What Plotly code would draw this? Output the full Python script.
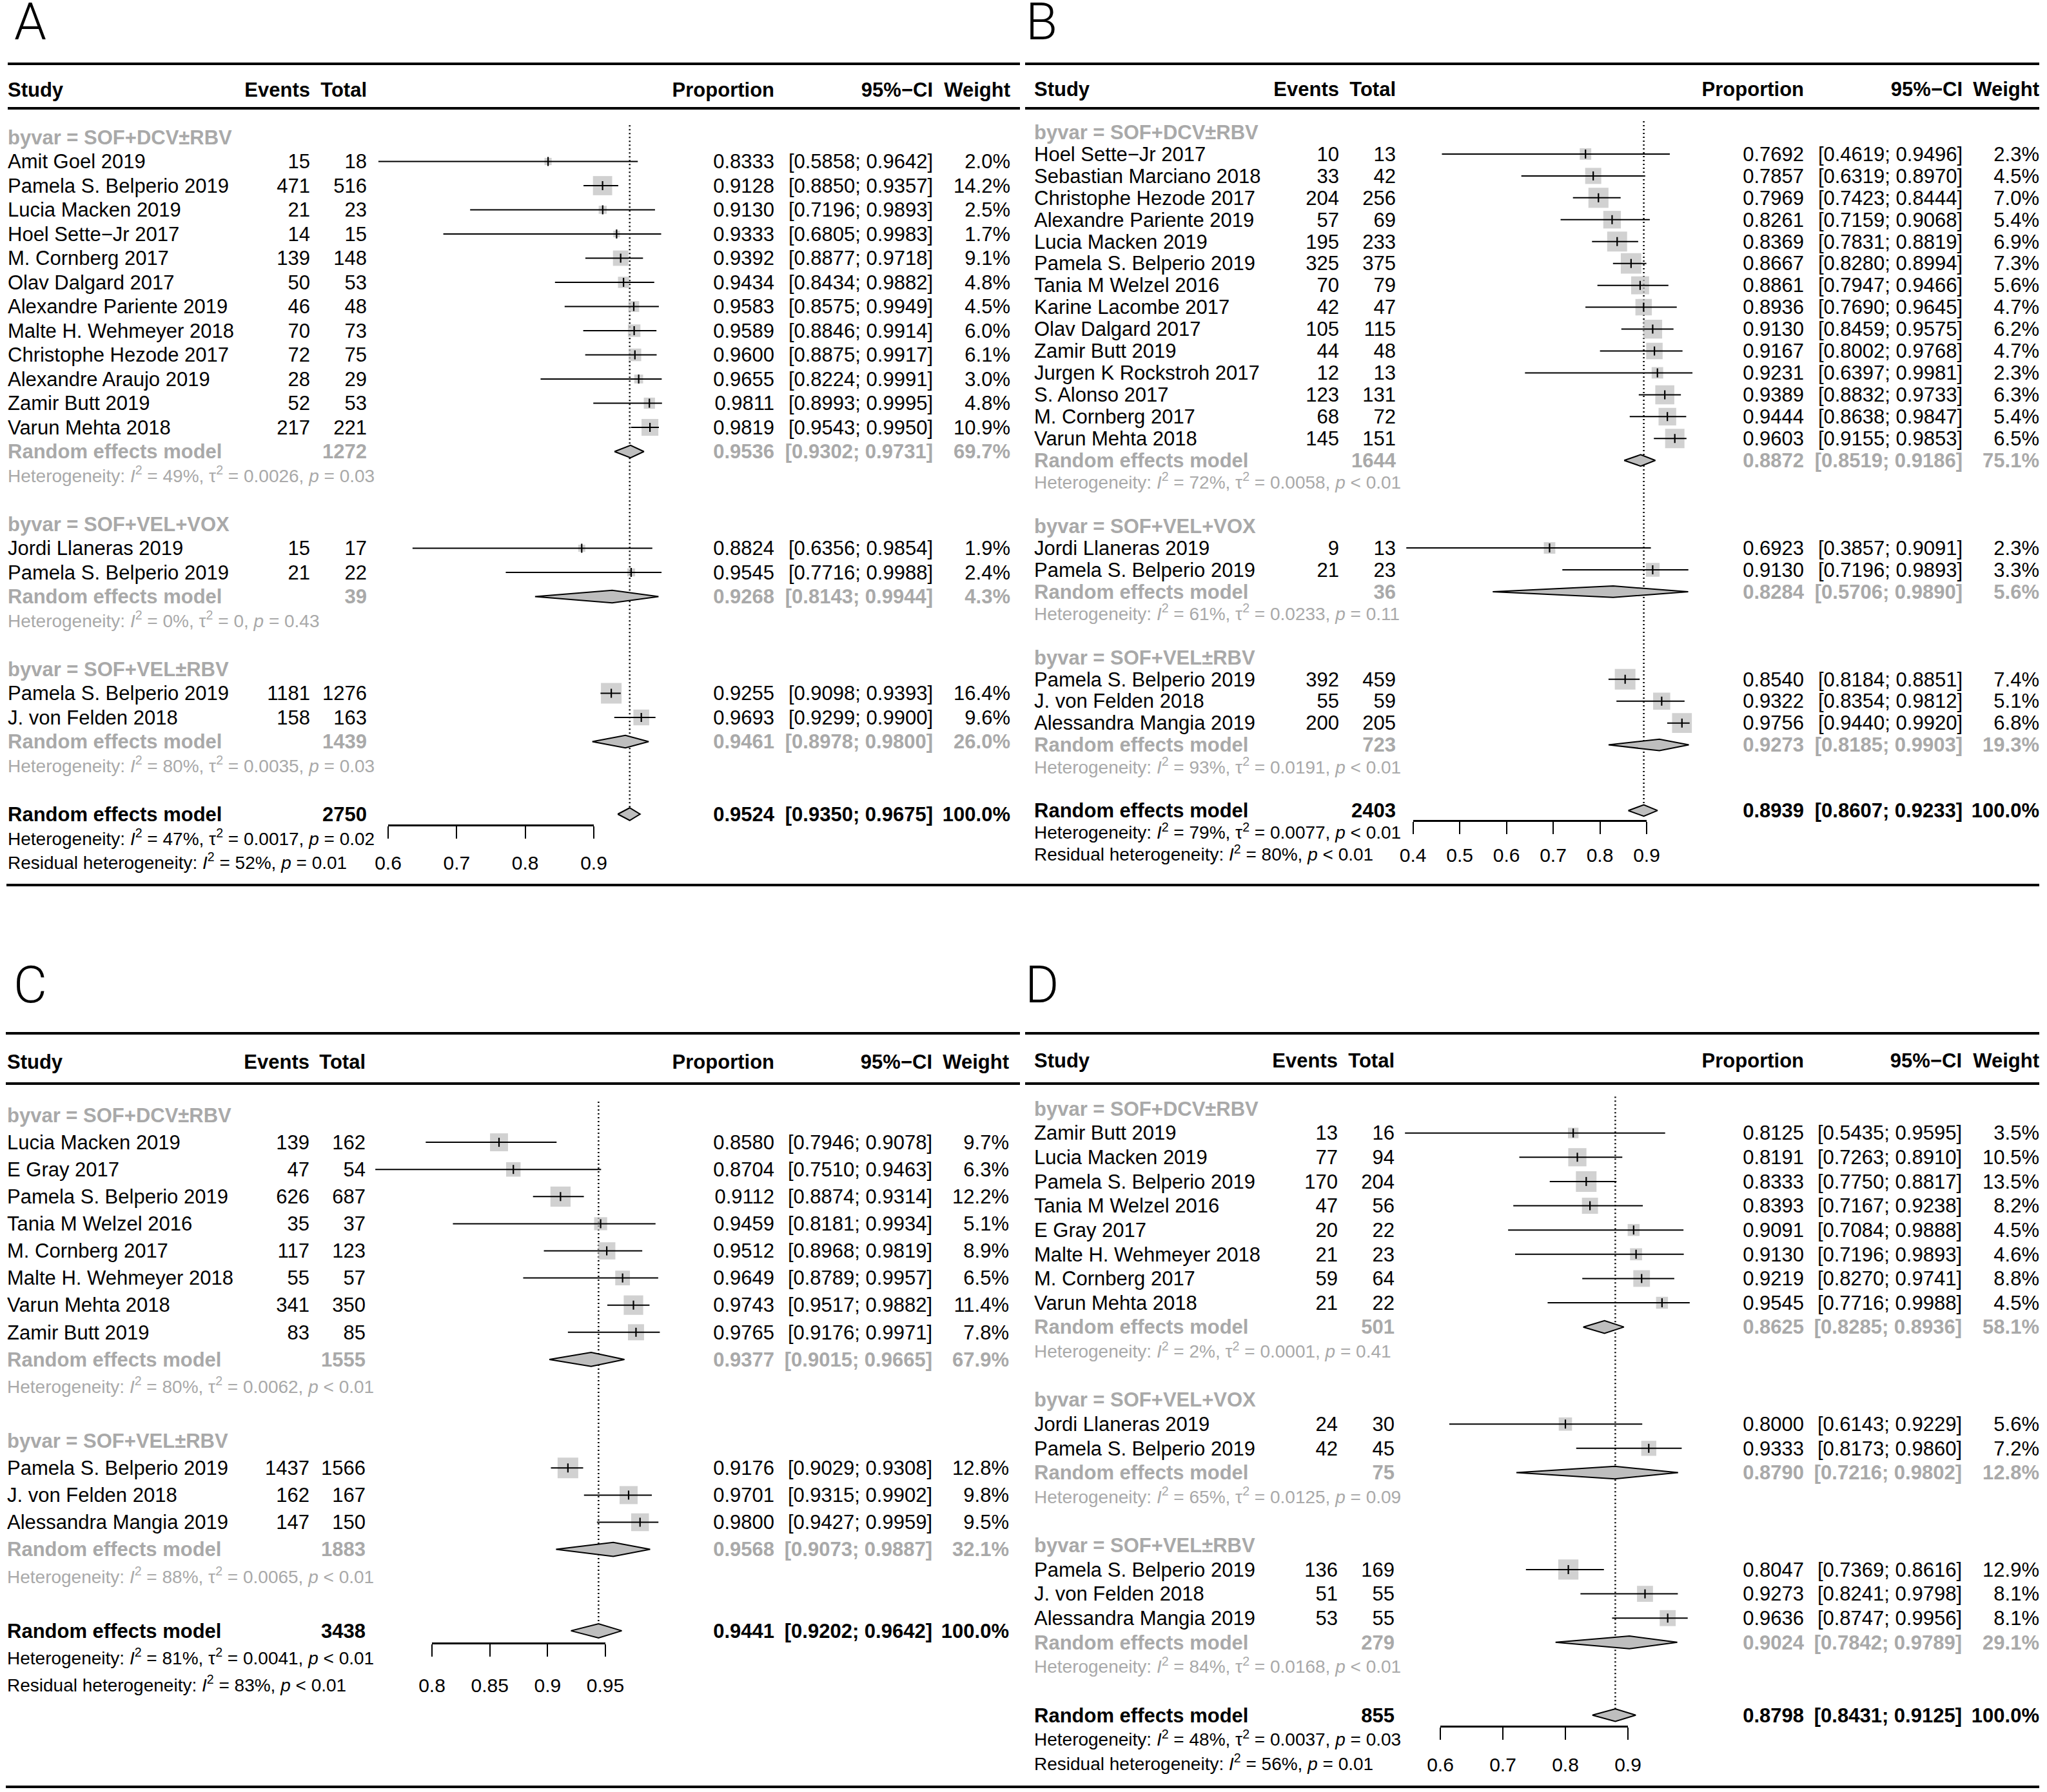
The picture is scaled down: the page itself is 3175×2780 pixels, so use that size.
import math
import plotly.graph_objects as go

W, H = 3175, 2780
FONT = "Liberation Sans, Arial, Helvetica, sans-serif"
TXT_GRAY = "#A9A9A9"
BOX_GRAY = "#BEBEBE"

# ======================= Panel A data =======================
A_groups = ["SOF+DCV±RBV", "SOF+VEL+VOX", "SOF+VEL±RBV"]
A_group = [0, 0, 0, 0, 0, 0, 0, 0, 0, 0, 0, 0, 1, 1, 2, 2]
A_study = ["Amit Goel 2019", "Pamela S. Belperio 2019", "Lucia Macken 2019", "Hoel Sette−Jr 2017",
           "M. Cornberg 2017", "Olav Dalgard 2017", "Alexandre Pariente 2019", "Malte H. Wehmeyer 2018",
           "Christophe Hezode 2017", "Alexandre Araujo 2019", "Zamir Butt 2019", "Varun Mehta 2018",
           "Jordi Llaneras 2019", "Pamela S. Belperio 2019",
           "Pamela S. Belperio 2019", "J. von Felden 2018"]
A_events = [15, 471, 21, 14, 139, 50, 46, 70, 72, 28, 52, 217, 15, 21, 1181, 158]
A_total = [18, 516, 23, 15, 148, 53, 48, 73, 75, 29, 53, 221, 17, 22, 1276, 163]
A_prop = [0.8333, 0.9128, 0.9130, 0.9333, 0.9392, 0.9434, 0.9583, 0.9589, 0.9600, 0.9655, 0.9811, 0.9819,
          0.8824, 0.9545, 0.9255, 0.9693]
A_lower = [0.5858, 0.8850, 0.7196, 0.6805, 0.8877, 0.8434, 0.8575, 0.8846, 0.8875, 0.8224, 0.8993, 0.9543,
           0.6356, 0.7716, 0.9098, 0.9299]
A_upper = [0.9642, 0.9357, 0.9893, 0.9983, 0.9718, 0.9882, 0.9949, 0.9914, 0.9917, 0.9991, 0.9995, 0.9950,
           0.9854, 0.9988, 0.9393, 0.9900]
A_weight = [2.0, 14.2, 2.5, 1.7, 9.1, 4.8, 4.5, 6.0, 6.1, 3.0, 4.8, 10.9, 1.9, 2.4, 16.4, 9.6]
A_sub_total = [1272, 39, 1439]
A_sub_prop = [0.9536, 0.9268, 0.9461]
A_sub_lower = [0.9302, 0.8143, 0.8978]
A_sub_upper = [0.9731, 0.9944, 0.9800]
A_sub_weight = [69.7, 4.3, 26.0]
A_sub_I2 = [49, 0, 80]
A_sub_tau2 = ["0.0026", "0", "0.0035"]
A_sub_p = ["= 0.03", "= 0.43", "= 0.03"]
A_all_total = 2750
A_all_ci = [0.9524, 0.9350, 0.9675]
A_het = [47, "0.0017", "= 0.02"]
A_resid = [52, "= 0.01"]
A_ticks = [0.6, 0.7, 0.8, 0.9]
A_ticklabels = ["0.6", "0.7", "0.8", "0.9"]

# ======================= Panel B data =======================
B_groups = ["SOF+DCV±RBV", "SOF+VEL+VOX", "SOF+VEL±RBV"]
B_group = [0, 0, 0, 0, 0, 0, 0, 0, 0, 0, 0, 0, 0, 0, 1, 1, 2, 2, 2]
B_study = ["Hoel Sette−Jr 2017", "Sebastian Marciano 2018", "Christophe Hezode 2017", "Alexandre Pariente 2019",
           "Lucia Macken 2019", "Pamela S. Belperio 2019", "Tania M Welzel 2016", "Karine Lacombe 2017",
           "Olav Dalgard 2017", "Zamir Butt 2019", "Jurgen K Rockstroh 2017", "S. Alonso 2017",
           "M. Cornberg 2017", "Varun Mehta 2018",
           "Jordi Llaneras 2019", "Pamela S. Belperio 2019",
           "Pamela S. Belperio 2019", "J. von Felden 2018", "Alessandra Mangia 2019"]
B_events = [10, 33, 204, 57, 195, 325, 70, 42, 105, 44, 12, 123, 68, 145, 9, 21, 392, 55, 200]
B_total = [13, 42, 256, 69, 233, 375, 79, 47, 115, 48, 13, 131, 72, 151, 13, 23, 459, 59, 205]
B_prop = [0.7692, 0.7857, 0.7969, 0.8261, 0.8369, 0.8667, 0.8861, 0.8936, 0.9130, 0.9167, 0.9231, 0.9389,
          0.9444, 0.9603, 0.6923, 0.9130, 0.8540, 0.9322, 0.9756]
B_lower = [0.4619, 0.6319, 0.7423, 0.7159, 0.7831, 0.8280, 0.7947, 0.7690, 0.8459, 0.8002, 0.6397, 0.8832,
           0.8638, 0.9155, 0.3857, 0.7196, 0.8184, 0.8354, 0.9440]
B_upper = [0.9496, 0.8970, 0.8444, 0.9068, 0.8819, 0.8994, 0.9466, 0.9645, 0.9575, 0.9768, 0.9981, 0.9733,
           0.9847, 0.9853, 0.9091, 0.9893, 0.8851, 0.9812, 0.9920]
B_weight = [2.3, 4.5, 7.0, 5.4, 6.9, 7.3, 5.6, 4.7, 6.2, 4.7, 2.3, 6.3, 5.4, 6.5, 2.3, 3.3, 7.4, 5.1, 6.8]
B_sub_total = [1644, 36, 723]
B_sub_prop = [0.8872, 0.8284, 0.9273]
B_sub_lower = [0.8519, 0.5706, 0.8185]
B_sub_upper = [0.9186, 0.9890, 0.9903]
B_sub_weight = [75.1, 5.6, 19.3]
B_sub_I2 = [72, 61, 93]
B_sub_tau2 = ["0.0058", "0.0233", "0.0191"]
B_sub_p = ["< 0.01", "= 0.11", "< 0.01"]
B_all_total = 2403
B_all_ci = [0.8939, 0.8607, 0.9233]
B_het = [79, "0.0077", "< 0.01"]
B_resid = [80, "< 0.01"]
B_ticks = [0.4, 0.5, 0.6, 0.7, 0.8, 0.9]
B_ticklabels = ["0.4", "0.5", "0.6", "0.7", "0.8", "0.9"]

# ======================= Panel C data =======================
C_groups = ["SOF+DCV±RBV", "SOF+VEL±RBV"]
C_group = [0, 0, 0, 0, 0, 0, 0, 0, 1, 1, 1]
C_study = ["Lucia Macken 2019", "E Gray 2017", "Pamela S. Belperio 2019", "Tania M Welzel 2016",
           "M. Cornberg 2017", "Malte H. Wehmeyer 2018", "Varun Mehta 2018", "Zamir Butt 2019",
           "Pamela S. Belperio 2019", "J. von Felden 2018", "Alessandra Mangia 2019"]
C_events = [139, 47, 626, 35, 117, 55, 341, 83, 1437, 162, 147]
C_total = [162, 54, 687, 37, 123, 57, 350, 85, 1566, 167, 150]
C_prop = [0.8580, 0.8704, 0.9112, 0.9459, 0.9512, 0.9649, 0.9743, 0.9765, 0.9176, 0.9701, 0.9800]
C_lower = [0.7946, 0.7510, 0.8874, 0.8181, 0.8968, 0.8789, 0.9517, 0.9176, 0.9029, 0.9315, 0.9427]
C_upper = [0.9078, 0.9463, 0.9314, 0.9934, 0.9819, 0.9957, 0.9882, 0.9971, 0.9308, 0.9902, 0.9959]
C_weight = [9.7, 6.3, 12.2, 5.1, 8.9, 6.5, 11.4, 7.8, 12.8, 9.8, 9.5]
C_sub_total = [1555, 1883]
C_sub_prop = [0.9377, 0.9568]
C_sub_lower = [0.9015, 0.9073]
C_sub_upper = [0.9665, 0.9887]
C_sub_weight = [67.9, 32.1]
C_sub_I2 = [80, 88]
C_sub_tau2 = ["0.0062", "0.0065"]
C_sub_p = ["< 0.01", "< 0.01"]
C_all_total = 3438
C_all_ci = [0.9441, 0.9202, 0.9642]
C_het = [81, "0.0041", "< 0.01"]
C_resid = [83, "< 0.01"]
C_ticks = [0.8, 0.85, 0.9, 0.95]
C_ticklabels = ["0.8", "0.85", "0.9", "0.95"]

# ======================= Panel D data =======================
D_groups = ["SOF+DCV±RBV", "SOF+VEL+VOX", "SOF+VEL±RBV"]
D_group = [0, 0, 0, 0, 0, 0, 0, 0, 1, 1, 2, 2, 2]
D_study = ["Zamir Butt 2019", "Lucia Macken 2019", "Pamela S. Belperio 2019", "Tania M Welzel 2016",
           "E Gray 2017", "Malte H. Wehmeyer 2018", "M. Cornberg 2017", "Varun Mehta 2018",
           "Jordi Llaneras 2019", "Pamela S. Belperio 2019",
           "Pamela S. Belperio 2019", "J. von Felden 2018", "Alessandra Mangia 2019"]
D_events = [13, 77, 170, 47, 20, 21, 59, 21, 24, 42, 136, 51, 53]
D_total = [16, 94, 204, 56, 22, 23, 64, 22, 30, 45, 169, 55, 55]
D_prop = [0.8125, 0.8191, 0.8333, 0.8393, 0.9091, 0.9130, 0.9219, 0.9545, 0.8000, 0.9333, 0.8047, 0.9273, 0.9636]
D_lower = [0.5435, 0.7263, 0.7750, 0.7167, 0.7084, 0.7196, 0.8270, 0.7716, 0.6143, 0.8173, 0.7369, 0.8241, 0.8747]
D_upper = [0.9595, 0.8910, 0.8817, 0.9238, 0.9888, 0.9893, 0.9741, 0.9988, 0.9229, 0.9860, 0.8616, 0.9798, 0.9956]
D_weight = [3.5, 10.5, 13.5, 8.2, 4.5, 4.6, 8.8, 4.5, 5.6, 7.2, 12.9, 8.1, 8.1]
D_sub_total = [501, 75, 279]
D_sub_prop = [0.8625, 0.8790, 0.9024]
D_sub_lower = [0.8285, 0.7216, 0.7842]
D_sub_upper = [0.8936, 0.9802, 0.9789]
D_sub_weight = [58.1, 12.8, 29.1]
D_sub_I2 = [2, 65, 84]
D_sub_tau2 = ["0.0001", "0.0125", "0.0168"]
D_sub_p = ["= 0.41", "= 0.09", "< 0.01"]
D_all_total = 855
D_all_ci = [0.8798, 0.8431, 0.9125]
D_het = [48, "0.0037", "= 0.03"]
D_resid = [56, "= 0.01"]
D_ticks = [0.6, 0.7, 0.8, 0.9]
D_ticklabels = ["0.6", "0.7", "0.8", "0.9"]


def pack(prefix):
    g = globals()
    keys = ["groups", "group", "study", "events", "total", "prop", "lower", "upper", "weight",
            "sub_total", "sub_prop", "sub_lower", "sub_upper", "sub_weight", "sub_I2", "sub_tau2", "sub_p",
            "all_total", "all_ci", "het", "resid", "ticks", "ticklabels"]
    return {k: g[prefix + "_" + k] for k in keys}


# ---------------- layout specs (pixel geometry of each panel) ----------------
SPECS = [
    dict(letter="A", lx=20, ly=34, base=213, step=37.5, header=139,
         c_study=12, c_ev=481, c_tot=569, c_prop=1201, c_ci=1447, c_w=1567,
         ref_v=0.6, ref_px=602, k=1063.3, vlo=0.55, vhi=1.03,
         lx0=12, lx1=1582, top=99, mid=168, bot=1373, bx0=10, bx1=1588),
    dict(letter="B", lx=1589, ly=34, base=205, step=33.95, header=138,
         c_study=1604, c_ev=2077, c_tot=2165, c_prop=2798, c_ci=3044, c_w=3163,
         ref_v=0.4, ref_px=2191.6, k=724.8, vlo=0.35, vhi=1.03,
         lx0=1590, lx1=3163, top=99, mid=168, bot=1373, bx0=1588, bx1=3163),
    dict(letter="C", lx=19, ly=1528, base=1730, step=42.1, header=1647,
         c_study=11, c_ev=480, c_tot=567, c_prop=1201, c_ci=1446, c_w=1565,
         ref_v=0.8, ref_px=670, k=1793, vlo=0.72, vhi=1.03,
         lx0=9, lx1=1582, top=1603, mid=1681, bot=2772, bx0=9, bx1=1588),
    dict(letter="D", lx=1588, ly=1528, base=1720, step=37.63, header=1645,
         c_study=1604, c_ev=2075, c_tot=2163, c_prop=2798, c_ci=3043, c_w=3163,
         ref_v=0.6, ref_px=2234, k=970, vlo=0.5, vhi=1.03,
         lx0=1590, lx1=3163, top=1603, mid=1681, bot=2772, bx0=1588, bx1=3163),
]

FS = 31      # main text size
FS_HET = 28  # heterogeneity text size
FS_TICK = 30
MAX_BOX = 32
TICKLEN = 19
TXT_DY = 3   # px nudge of text rows downward

fig = go.Figure()
layout = dict(
    width=W, height=H, autosize=False,
    margin=dict(l=0, r=0, t=0, b=0, pad=0, autoexpand=False),
    paper_bgcolor="white", plot_bgcolor="rgba(0,0,0,0)",
    showlegend=False, font=dict(family=FONT, color="black", size=FS),
    xaxis=dict(domain=[0, 1], range=[0, W], visible=False, anchor="y", fixedrange=True),
)
shapes = []
annotations = []


def fmt4(v):
    return f"{v:.4f}"


def ci_txt(lo, hi):
    return f"[{lo:.4f}; {hi:.4f}]"


def het_txt(I2, tau2, p):
    return (f"Heterogeneity: <i>I</i><sup>2</sup> = {I2}%, τ<sup>2</sup> = {tau2}, <i>p</i> {p}")


def add_text(x, ys, texts, align, yname, dy, size=FS, color="black", bold=False):
    if not isinstance(x, (list, tuple)):
        xs = [x] * len(ys)
    else:
        xs = list(x)
    if bold:
        texts = [f"<b>{t}</b>" for t in texts]
    fig.add_trace(go.Scatter(
        x=xs, y=[v + dy for v in ys], text=texts, mode="text", xaxis="x", yaxis=yname,
        textposition="middle right" if align == "left" else "middle left",
        textfont=dict(family=FONT, size=size, color=color),
        hoverinfo="skip", cliponaxis=False))


for p, prefix in enumerate(["A", "B", "C", "D"]):
    d = pack(prefix)
    s = SPECS[p]
    ysuf = "" if p == 0 else str(p + 1)
    yname = "y" + ysuf
    xd = f"x{2 + 2 * p}"
    xt = f"x{3 + 2 * p}"
    tdy = TXT_DY / s["step"]

    def pix(v):
        return s["ref_px"] + (v - s["ref_v"]) * s["k"]

    # ---- row assignment ----
    n = len(d["study"])
    study_row = [0] * n
    label_row, sub_row, het_row = [], [], []
    r = 0
    for g in range(len(d["groups"])):
        label_row.append(r)
        r += 1
        for i in range(n):
            if d["group"][i] == g:
                study_row[i] = r
                r += 1
        sub_row.append(r)
        r += 1
        het_row.append(r)
        r += 1
        r += 1
    all_row = r
    allhet_row = r + 1
    resid_row = r + 2
    header_row = (s["header"] - s["base"]) / s["step"]

    # ---- axes ----
    r_top = (0 - s["base"]) / s["step"]
    r_bot = (H - s["base"]) / s["step"]
    layout["yaxis" + ysuf] = dict(domain=[0, 1], range=[r_bot, r_top], visible=False,
                                  anchor="x", fixedrange=True)
    layout["xaxis" + xd[1:]] = dict(domain=[pix(s["vlo"]) / W, pix(s["vhi"]) / W],
                                    range=[s["vlo"], s["vhi"]], visible=False, anchor=yname,
                                    fixedrange=True)
    t0, t1 = d["ticks"][0], d["ticks"][-1]
    axis_px = s["base"] + (all_row + 0.45) * s["step"]
    target = 1.55 * s["step"]
    standoff = int(round(max(0, target - (TICKLEN + 3 + 0.36 * FS_TICK) - 13)))
    layout["xaxis" + xt[1:]] = dict(
        domain=[pix(t0) / W, pix(t1) / W], range=[t0, t1], anchor="free",
        position=1 - axis_px / H, showline=True, linecolor="black", linewidth=3,
        ticks="outside", ticklen=TICKLEN, tickwidth=2, tickcolor="black",
        tickvals=d["ticks"], ticktext=d["ticklabels"], showgrid=False, zeroline=False,
        tickfont=dict(family=FONT, size=FS_TICK, color="black"), ticklabelstandoff=standoff,
        automargin=False, fixedrange=True)
    # dummy trace so the tick axis subplot exists
    fig.add_trace(go.Scatter(x=[t0], y=[all_row], xaxis=xt, yaxis=yname, mode="markers",
                             marker=dict(opacity=0, size=1), hoverinfo="skip"))

    # ---- dotted reference line at overall estimate ----
    dh = 0.26
    est = d["all_ci"][0]
    fig.add_trace(go.Scatter(x=[est, est], y=[-0.5, all_row - dh], xaxis=xd, yaxis=yname,
                             mode="lines", line=dict(color="black", width=2.5, dash="2px,4px"),
                             hoverinfo="skip"))

    # ---- squares ----
    wmax = max(d["weight"])
    sizes = [MAX_BOX * math.sqrt(w / wmax) for w in d["weight"]]
    fig.add_trace(go.Scatter(x=d["prop"], y=study_row, xaxis=xd, yaxis=yname, mode="markers",
                             marker=dict(symbol="square", size=sizes, color=BOX_GRAY, line=dict(width=0)),
                             hoverinfo="skip"))
    # ---- CI lines ----
    cx, cy = [], []
    for i in range(n):
        cx += [d["lower"][i], d["upper"][i], None]
        cy += [study_row[i], study_row[i], None]
    fig.add_trace(go.Scatter(x=cx, y=cy, xaxis=xd, yaxis=yname, mode="lines",
                             line=dict(color="black", width=2), hoverinfo="skip"))
    # ---- estimate ticks ----
    fig.add_trace(go.Scatter(x=d["prop"], y=study_row, xaxis=xd, yaxis=yname, mode="markers",
                             marker=dict(symbol="line-ns", size=10, line=dict(color="black", width=2.2)),
                             hoverinfo="skip"))
    # ---- diamonds ----
    dx, dy = [], []
    dia = [(d["sub_prop"][g], d["sub_lower"][g], d["sub_upper"][g], sub_row[g]) for g in range(len(d["groups"]))]
    dia.append((d["all_ci"][0], d["all_ci"][1], d["all_ci"][2], all_row))
    for (e, lo, hi, rr) in dia:
        dx += [lo, e, hi, e, lo, None]
        dy += [rr, rr - dh, rr, rr + dh, rr, None]
    fig.add_trace(go.Scatter(x=dx, y=dy, xaxis=xd, yaxis=yname, mode="lines", fill="toself",
                             fillcolor=BOX_GRAY, line=dict(color="black", width=2), hoverinfo="skip"))

    # ---- header ----
    add_text(s["c_study"], [header_row], ["Study"], "left", yname, tdy, bold=True)
    add_text([s["c_ev"], s["c_tot"], s["c_prop"], s["c_ci"], s["c_w"]], [header_row] * 5,
             ["Events", "Total", "Proportion", "95%−CI", "Weight"], "right", yname, tdy, bold=True)

    # ---- study rows ----
    add_text(s["c_study"], study_row, d["study"], "left", yname, tdy)
    add_text(s["c_ev"], study_row, [str(v) for v in d["events"]], "right", yname, tdy)
    add_text(s["c_tot"], study_row, [str(v) for v in d["total"]], "right", yname, tdy)
    add_text(s["c_prop"], study_row, [fmt4(v) for v in d["prop"]], "right", yname, tdy)
    add_text(s["c_ci"], study_row, [ci_txt(a, b) for a, b in zip(d["lower"], d["upper"])], "right", yname, tdy)
    add_text(s["c_w"], study_row, [f"{w:.1f}%" for w in d["weight"]], "right", yname, tdy)

    # ---- subgroup rows ----
    add_text(s["c_study"], label_row, [f"byvar = {g}" for g in d["groups"]], "left", yname, tdy,
             color=TXT_GRAY, bold=True)
    add_text(s["c_study"], sub_row, ["Random effects model"] * len(sub_row), "left", yname, tdy,
             color=TXT_GRAY, bold=True)
    add_text(s["c_tot"], sub_row, [str(v) for v in d["sub_total"]], "right", yname, tdy,
             color=TXT_GRAY, bold=True)
    add_text(s["c_prop"], sub_row, [fmt4(v) for v in d["sub_prop"]], "right", yname, tdy,
             color=TXT_GRAY, bold=True)
    add_text(s["c_ci"], sub_row, [ci_txt(a, b) for a, b in zip(d["sub_lower"], d["sub_upper"])], "right",
             yname, tdy, color=TXT_GRAY, bold=True)
    add_text(s["c_w"], sub_row, [f"{w:.1f}%" for w in d["sub_weight"]], "right", yname, tdy,
             color=TXT_GRAY, bold=True)
    add_text(s["c_study"], het_row,
             [het_txt(a, b, c) for a, b, c in zip(d["sub_I2"], d["sub_tau2"], d["sub_p"])],
             "left", yname, tdy, size=FS_HET, color=TXT_GRAY)

    # ---- overall ----
    add_text(s["c_study"], [all_row], ["Random effects model"], "left", yname, tdy, bold=True)
    add_text([s["c_tot"], s["c_prop"], s["c_ci"], s["c_w"]], [all_row] * 4,
             [str(d["all_total"]), fmt4(d["all_ci"][0]), ci_txt(d["all_ci"][1], d["all_ci"][2]), "100.0%"],
             "right", yname, tdy, bold=True)
    add_text(s["c_study"], [allhet_row], [het_txt(*d["het"])], "left", yname, tdy, size=FS_HET)
    add_text(s["c_study"], [resid_row],
             [f"Residual heterogeneity: <i>I</i><sup>2</sup> = {d['resid'][0]}%, <i>p</i> {d['resid'][1]}"],
             "left", yname, tdy, size=FS_HET)

    # ---- rules ----
    for ypx, x0, x1 in [(s["top"], s["lx0"], s["lx1"]), (s["mid"], s["lx0"], s["lx1"]),
                        (s["bot"], s["bx0"], s["bx1"])]:
        shapes.append(dict(type="line", xref="x", yref="paper", x0=x0, x1=x1,
                           y0=1 - ypx / H, y1=1 - ypx / H, line=dict(color="black", width=4)))
    # ---- panel letter ----
    annotations.append(dict(text=s["letter"], xref="x", yref="paper", x=s["lx"], y=1 - s["ly"] / H,
                            xanchor="left", yanchor="middle", showarrow=False,
                            font=dict(family="Roboto, " + FONT, size=80, color="black", weight=300)))

layout["shapes"] = shapes
layout["annotations"] = annotations
fig.update_layout(**layout)
fig.write_html("out.html", config={"displayModeBar": False, "responsive": False},
               post_script="document.body.style.margin='0px';document.body.style.overflow='hidden';")
